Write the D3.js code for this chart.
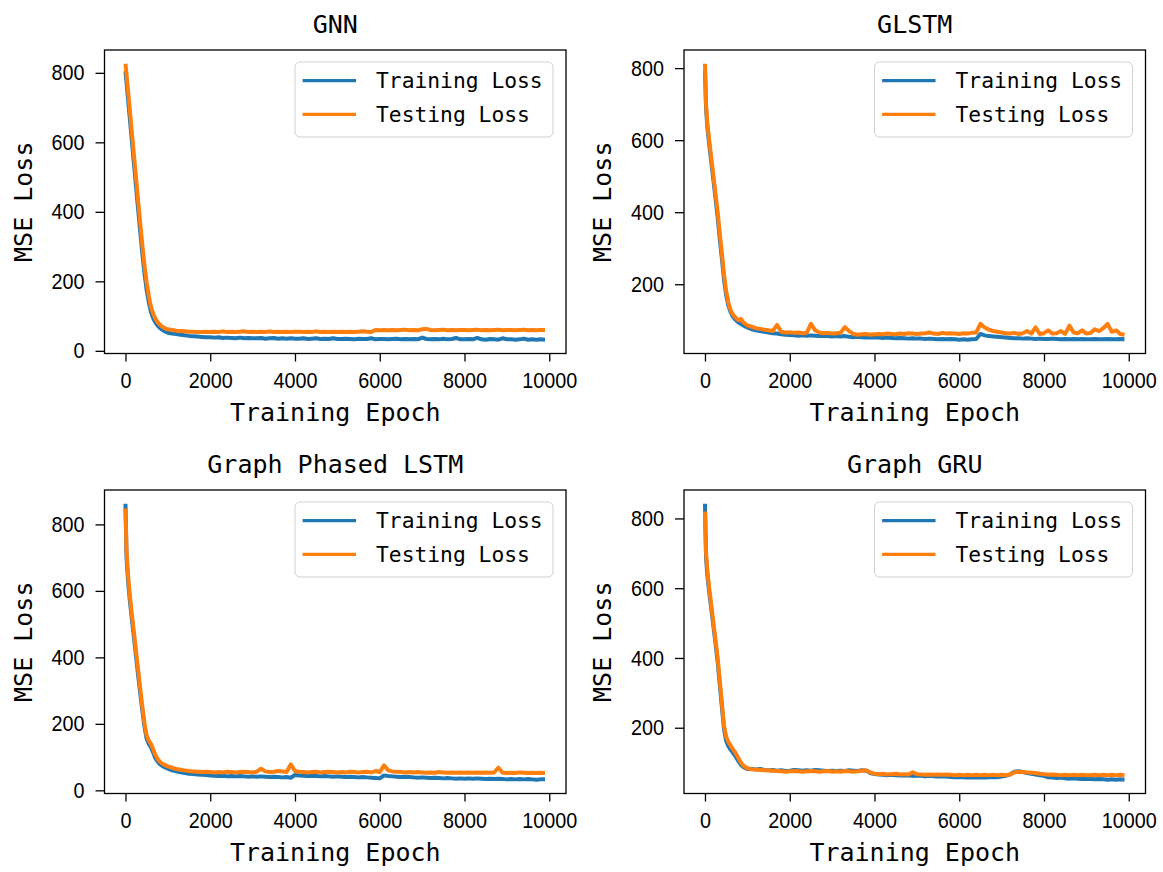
<!DOCTYPE html>
<html>
<head>
<meta charset="utf-8">
<script src="https://cdn.jsdelivr.net/npm/d3@7"></script>
<style>
  body { margin: 0; background: #fff; }
</style>
</head>
<body>
<svg width="1163" height="872"></svg>
<script>
var epochs = [0,25,50,75,100,150,200,250,300,350,400,450,500,550,600,650,700,750,800,850,900,950,1000,
  1100,1200,1300,1400,1500,1600,1700,1800,1900,2000,
  2100,2200,2300,2400,2500,2600,2700,2800,2900,3000,
  3100,3200,3300,3400,3500,3600,3700,3800,3900,4000,
  4100,4200,4300,4400,4500,4600,4700,4800,4900,5000,
  5100,5200,5300,5400,5500,5600,5700,5800,5900,6000,
  6100,6200,6300,6400,6500,6600,6700,6800,6900,7000,
  7100,7200,7300,7400,7500,7600,7700,7800,7900,8000,
  8100,8200,8300,8400,8500,8600,8700,8800,8900,9000,
  9100,9200,9300,9400,9500,9600,9700,9800,9900];

// GNN
var gnnTrain = [805,772,738,705,672,605,538,472,405,340,278,222,175,140,112,95,83,74,67,62,58,55,52,
  50,48,46,45,43,42,41,40,39,39,
  38,39,37,38,37,36,38,36,37,36,
  36,37,35,36,37,35,36,35,36,35,
  35,36,34,35,36,34,35,34,36,34,
  34,35,34,33,35,34,34,36,33,34,
  34,33,34,35,33,34,33,34,33,38,
  34,33,34,33,35,33,34,37,33,33,
  34,33,37,33,32,34,33,32,36,33,
  33,32,33,35,32,33,32,33,32];
var gnnTest = [826,795,762,730,697,630,563,497,430,365,302,245,196,158,128,108,94,84,77,71,67,64,62,
  60,58,57,56,55,55,54,54,55,54,
  55,54,56,54,55,54,55,56,54,55,
  54,55,54,56,54,55,54,55,54,55,
  55,54,55,54,56,54,55,54,55,54,
  55,54,55,54,55,56,55,54,60,59,
  60,59,60,59,60,61,59,60,59,62,
  63,60,59,60,61,59,60,59,60,60,
  59,60,61,59,60,59,60,61,59,60,
  60,59,60,61,59,60,59,60,60];

// GLSTM
var glstmTrain = [795,690,645,615,588,538,488,437,385,325,270,212,170,142,124,112,104,98,93,90,86,83,80,
  75,72,70,68,66,64,63,61,60,59,
  58,57,58,57,58,57,56,57,56,55,
  56,55,56,54,53,54,53,52,53,52,
  52,51,52,51,50,51,50,49,50,49,
  49,48,49,48,47,48,47,48,47,46,
  47,46,47,48,62,58,56,55,54,53,
  52,51,50,50,49,50,49,48,49,48,
  48,49,48,47,48,47,48,47,48,47,
  47,48,47,47,48,47,47,48,47];
var glstmTest = [812,700,655,625,600,550,500,450,400,340,285,225,180,150,130,118,110,104,100,104,95,90,86,
  82,78,76,74,72,70,87,68,66,67,
  65,66,64,65,90,72,66,64,65,63,
  64,65,81,70,62,60,61,62,60,61,
  62,61,63,62,61,63,62,64,63,62,
  63,64,66,63,62,65,63,64,63,62,
  64,63,65,66,90,80,74,70,68,66,
  64,63,65,62,64,70,63,80,62,64,
  72,63,64,70,62,85,66,64,72,63,
  65,75,70,78,90,68,72,62,60];

// Graph Phased LSTM
var phasedTrain = [862,700,650,608,575,515,460,402,345,290,238,190,155,140,130,115,98,88,80,75,71,68,65,
  60,57,54,52,50,49,48,47,46,45,
  44,43,44,42,43,42,43,42,41,42,
  41,42,41,40,41,40,39,40,38,46,
  45,44,43,44,43,42,43,42,41,42,
  41,40,41,40,39,40,39,38,37,36,
  45,43,42,41,40,41,40,39,38,39,
  38,37,38,37,36,37,36,35,36,35,
  36,35,36,35,34,35,34,35,34,33,
  34,33,34,33,34,33,32,33,33];
var phasedTest = [848,720,670,625,590,530,475,418,362,305,250,200,165,150,140,125,108,96,88,82,78,75,72,
  68,64,62,60,58,57,56,55,56,55,
  54,55,54,56,55,54,55,56,55,54,
  56,65,57,55,56,58,57,55,78,58,
  56,55,54,55,56,54,55,56,55,54,
  55,54,56,55,54,55,56,54,58,55,
  75,60,57,56,55,54,55,54,55,54,
  53,54,53,55,54,53,54,53,54,53,
  54,53,54,53,54,53,54,68,53,52,
  53,52,54,53,52,53,52,53,52];

// Graph GRU
var gruTrain = [842,690,645,615,588,540,490,440,388,322,258,195,162,148,138,130,122,112,102,94,88,84,82,
  82,80,82,79,78,79,77,78,76,77,
  79,78,77,78,77,79,78,77,76,77,
  76,77,76,78,77,76,78,77,70,67,
  66,65,64,65,64,63,64,63,62,63,
  62,61,62,61,60,61,60,59,58,59,
  58,57,58,57,58,57,58,59,58,60,
  62,66,74,75,73,70,68,66,64,62,
  58,57,56,57,55,54,55,54,53,54,
  53,52,53,52,51,52,51,52,51];
var gruTest = [820,705,660,628,600,550,500,450,400,335,270,205,175,160,150,140,132,122,110,100,92,87,84,
  81,80,79,78,78,77,76,75,74,75,
  76,75,74,75,76,75,74,75,76,74,
  75,74,76,75,74,75,77,78,72,68,
  67,68,66,67,68,66,67,66,72,67,
  66,65,66,65,66,65,66,65,64,65,
  64,65,64,65,64,65,64,65,64,65,
  64,66,72,74,73,72,71,70,68,67,
  65,66,65,64,65,64,65,64,65,64,
  64,65,64,65,64,65,64,65,64];

var titles = ["GNN", "GLSTM", "Graph Phased LSTM", "Graph GRU"];
var seriesNames = ["Training Loss", "Testing Loss"];
var colors = ["#1f77b4", "#ff7f0e"];
var xTicks = [0, 2000, 4000, 6000, 8000, 10000];
var yTicks = [0, 200, 400, 600, 800];

var panels = [
  {title: titles[0], series: [gnnTrain, gnnTest]},
  {title: titles[1], series: [glstmTrain, glstmTest]},
  {title: titles[2], series: [phasedTrain, phasedTest]},
  {title: titles[3], series: [gruTrain, gruTest]}
];

var svg = d3.select("svg"),
    cols = [104.5, 684],
    rows = [50, 490],
    width = 461.5,
    height = 303.5;

var labelFont = "'DejaVu Sans Mono', 'Liberation Mono', monospace",
    tickFont = "'Liberation Sans', Arial, sans-serif";

panels.forEach(function(p, i) {
  var g = svg.append("g")
    .attr("transform", "translate(" + cols[i % 2] + "," + rows[Math.floor(i / 2)] + ")");

  // matplotlib-like 5% margins around the data
  var xExt = d3.extent(epochs), xPad = (xExt[1] - xExt[0]) * 0.05;
  var all = p.series[0].concat(p.series[1]);
  var lo = d3.min(all), hi = d3.max(all), yPad = (hi - lo) * 0.05;

  var x = d3.scaleLinear().domain([xExt[0] - xPad, xExt[1] + xPad]).range([0, width]),
      y = d3.scaleLinear().domain([lo - yPad, hi + yPad]).range([height, 0]);

  var line = d3.line()
    .x(function(d, j) { return x(epochs[j]); })
    .y(function(d) { return y(d); });

  // loss curves, training first so testing sits on top
  p.series.forEach(function(s, k) {
    g.append("path")
      .attr("d", line(s))
      .attr("fill", "none")
      .attr("stroke", colors[k])
      .attr("stroke-width", 4)
      .attr("stroke-linejoin", "round");
  });

  // x axis
  var xa = g.append("g")
    .attr("transform", "translate(0," + height + ")")
    .call(d3.axisBottom(x).tickValues(xTicks).tickSize(8).tickPadding(11).tickFormat(d3.format("d")));
  xa.select(".domain").remove();

  // y axis
  var yd = y.domain();
  var ya = g.append("g")
    .call(d3.axisLeft(y)
      .tickValues(yTicks.filter(function(t) { return t >= yd[0] && t <= yd[1]; }))
      .tickSize(9).tickPadding(11).tickFormat(d3.format("d")));
  ya.select(".domain").remove();

  [xa, ya].forEach(function(a) {
    a.selectAll("line").attr("stroke", "#000").attr("stroke-width", 1.3);
    a.selectAll("text")
      .attr("fill", "#000")
      .attr("font-family", tickFont)
      .attr("font-size", 22)
      .attr("transform", "scale(0.9,1)");
  });
  ya.selectAll("text").attr("x", -20 / 0.9);

  // frame
  g.append("rect")
    .attr("width", width)
    .attr("height", height)
    .attr("fill", "none")
    .attr("stroke", "#000")
    .attr("stroke-width", 1.3);

  // title and axis labels
  g.append("text")
    .attr("x", width / 2)
    .attr("y", -17)
    .attr("text-anchor", "middle")
    .attr("font-family", labelFont)
    .attr("font-size", 25)
    .text(p.title);

  g.append("text")
    .attr("x", width / 2)
    .attr("y", height + 67)
    .attr("text-anchor", "middle")
    .attr("font-family", labelFont)
    .attr("font-size", 25)
    .text("Training Epoch");

  g.append("text")
    .attr("transform", "translate(-73," + (height / 2) + ") rotate(-90)")
    .attr("text-anchor", "middle")
    .attr("font-family", labelFont)
    .attr("font-size", 25)
    .text("MSE Loss");

  // legend
  var lg = g.append("g").attr("transform", "translate(" + (width - 13 - 258) + ",12)");
  lg.append("rect")
    .attr("width", 258)
    .attr("height", 75)
    .attr("rx", 5)
    .attr("fill", "#fff")
    .attr("fill-opacity", 0.8)
    .attr("stroke", "#d0d0d0");

  var item = lg.selectAll(".item")
    .data(seriesNames)
    .enter().append("g")
      .attr("class", "item")
      .attr("transform", function(d, k) { return "translate(0," + (18.7 + k * 33.6) + ")"; });

  item.append("line")
    .attr("x1", 7.6)
    .attr("x2", 61)
    .attr("stroke", function(d, k) { return colors[k]; })
    .attr("stroke-width", 3.3);

  item.append("text")
    .attr("x", 81)
    .attr("dy", "0.35em")
    .attr("font-family", labelFont)
    .attr("font-size", 21.3)
    .text(function(d) { return d; });
});
</script>
</body>
</html>
